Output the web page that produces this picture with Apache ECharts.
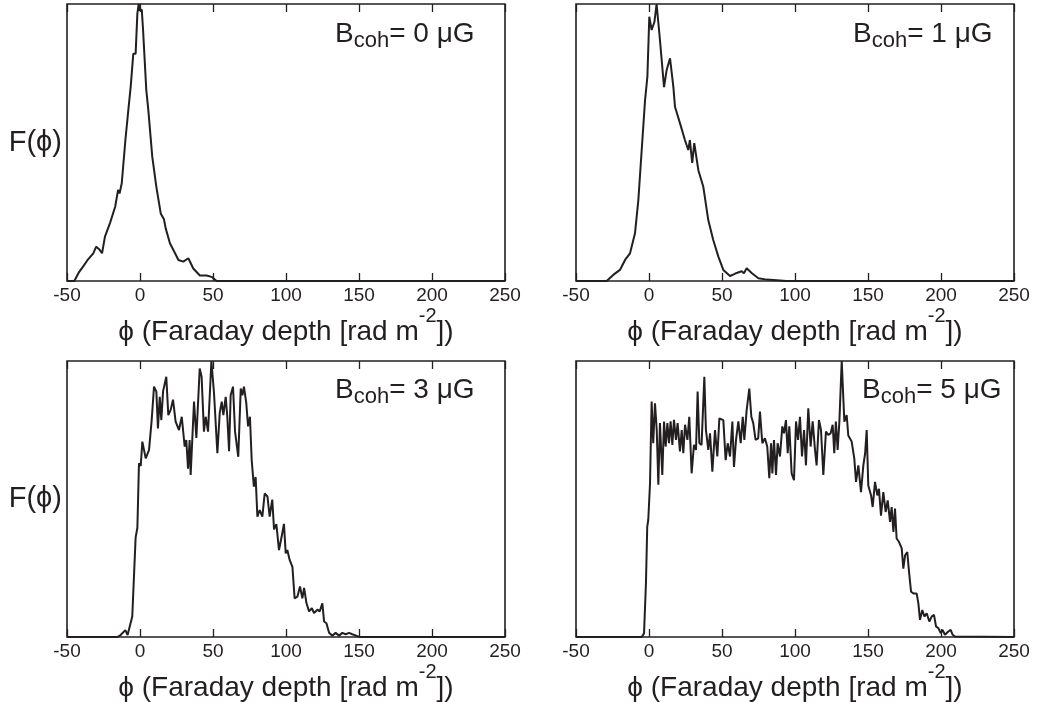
<!DOCTYPE html>
<html>
<head>
<meta charset="utf-8">
<script src="https://cdn.jsdelivr.net/npm/echarts@6/dist/echarts.min.js"></script>
<style>
html,body{margin:0;padding:0;background:#fff;}
#c{width:1039px;height:702px;}
</style>
</head>
<body>
<div id="c"></div>
<script>
// Tick labels (x axis, Faraday depth)
const xMin = -50, xMax = 250, xStep = 50;

// Panel labels
const bLabels = ['0', '1', '3', '5'];

// B_coh = 0 μG
const phi0 = [-50,-45,-42,-39,-36,-32,-30,-28,-26,-24,-20.5,-17,-15,-14,-12.5,-10,-8,-6.4,-4.6,-3,-1.8,-0.9,-0.2,1.2,2.1,4.3,5.7,8.4,11.2,14.2,16.4,17.6,20.5,24,26.3,29.7,33.1,36.5,41,45.6,49,52.5,250];
const f0   = [0,0,3,5.2,7.5,10,12.4,11.5,10,16,21,26.8,32.9,31.6,35.3,50.9,61.7,70,82,82,96.6,100,97.6,98,90.6,69,61.7,44.9,34,24.4,22.3,19,13.6,10,7.6,7,8.2,4.5,2,2,1.5,0,0];

// B_coh = 1 μG
const phi1 = [-50,-29,-24.5,-19.9,-16.4,-13,-9.6,-7.3,-5,-2.7,-1.1,0.2,1.8,3.7,5.2,7.5,10.3,12.1,14.4,16.7,17.8,21.2,24.6,26.9,28,29.6,31,33.8,37.2,40.6,44,47.5,50.9,53.2,55.5,58,60,63.5,65,66.9,70.3,74.9,80.6,87.5,94,250];
const f1   = [0,0,2.2,4,7.6,10,17.2,29.2,47.3,65.3,73.8,95.4,90.6,93.5,100,87,70,76.2,80.4,70,62.9,57,50.9,47.3,50.9,42.6,49.8,40,34,22,14.8,8.8,4,2.9,1.8,2.4,2.9,3.5,2.8,4.6,2.9,1,0.5,0.3,0,0];

// B_coh = 3 μG
const phi3 = [-50,-15.5,-13.3,-10,-8.5,-5.3,-3,-1.8,-0.7,0.5,1.6,3.9,6.2,8,9.6,11.2,12.3,13.5,14.6,15.8,18,19.4,21,22.6,24.4,26.7,28.6,30.6,31.7,32.9,34,34.7,37,38.6,40.9,42.2,43.8,45,46.6,48.9,50.7,53,54.6,56,57.1,58.7,59.8,61,62.1,63.7,65.1,67.3,69,70.1,71.2,72.8,74,75.3,76.5,78,79.2,80.4,82,83.8,85.4,87.3,88.8,90.6,91.8,93.4,95.2,97,98.6,99.8,100.9,102.5,104.4,105.9,107.8,109.6,111.2,112.4,114,115.8,117.7,119.2,121.5,123.1,124.9,126.1,127.7,129.5,131.7,134,136.3,138.6,140.9,143.2,145.4,148.9,151,250];
const f3   = [0,0,0.7,2.5,0.7,7.4,36,39.6,62.9,62,70.8,64.7,67.8,78.6,90.7,88.9,75.6,87,78.6,89,94.3,80.4,82.3,86,78,75,79.8,69,71.4,61,71.4,58.7,85.3,72.1,97.3,94.3,74.4,79.8,74.4,100,88.3,66.6,81.1,85.3,80.4,87,79.8,67.3,87.6,90.7,74.4,65.3,90,87.6,90.7,84.7,76.3,79.8,64.1,54.5,58,43.6,46,43.6,52,50.9,43.6,49.8,39,40.9,31.5,36.3,41,30.3,31.5,27.9,25.4,14,14.6,18.3,14,17.8,12.3,9.3,10.4,8.7,9.9,9.3,12.2,5.6,5,1.5,0.5,1.5,0.5,1.5,1,1.5,1,0.3,0,0];

// B_coh = 5 μG
const phi5 = [-50,-5,-3.4,-2.1,-1.2,-0.5,0.7,1.8,2.9,4.1,5.3,6.4,7.5,9.1,10.3,11.4,12.6,13.7,14.8,16,17.1,18.5,19.6,21.2,22.4,23.5,24.7,26.3,27.6,29.2,30.8,32.2,33.3,34.5,36,37.9,39,40.6,41.8,43.4,45.2,46.8,48.2,49.5,50.9,52.5,53.9,55.5,57.1,58.2,59.6,61.2,62.8,64.2,65.3,66.9,68.7,70.1,71.4,73,74.8,76,77.6,79.4,81,82.4,83.6,84.5,85.6,87,88.1,89.7,91.3,92.5,93.8,95,96.1,97.7,99.3,100.7,102.1,103.4,104.8,106.2,107.5,109.1,110.7,112.1,113.7,114.8,116.4,117.8,119.4,121.2,122.8,124.4,125.8,126.9,128,129.2,130.4,132,133.8,135.4,136.5,138.8,140.6,141.8,143.4,145.2,146.8,148,149.1,150.2,152.1,153.2,154.8,156.4,157.5,158.9,160.5,162.1,163.5,165.1,166.2,167.4,168.5,169.6,171.2,173.1,174.2,175.4,176.9,178.1,179.5,181.1,183.3,184.5,185.6,187.2,188.6,190.2,192,193.6,195.2,196.6,198.2,199.8,201.1,202.7,205,206.6,208,209.6,250];
const f5   = [0,0,1.3,19.4,40,42.4,55.7,85.3,70.2,84.7,75,55.2,77.5,58.7,78.1,69,77.5,70.2,78.1,69.6,78.7,71.4,77.5,67.2,75,66.6,76.9,71.4,79.8,59.3,69.6,67.8,88.9,70.2,69.6,94.3,75,67.8,73.8,59.9,75,65.4,79.2,79.8,78.6,64.1,70.2,65.4,78.1,61.6,71.4,78.1,70.2,79.8,71.4,82.3,90,79.8,77.5,71.4,72,81.7,70.2,72,69,57.5,70.2,59.3,71.4,58.7,70.2,65.4,76.3,73.8,78.6,66.6,76.3,59.3,56.8,78.1,71.4,79.8,65.4,75,62.2,82.9,69,78.1,67.8,62.2,78.6,75,58.7,74.4,73.2,73.8,76.9,66.6,78.1,67.8,78.1,100,78,80.4,73,70.8,64.7,56.2,62.2,52.5,62.2,66.4,75,54.9,51.3,47.1,56.2,51.3,53.7,44,52.5,45.3,49.5,41.7,47.1,38.1,46.5,35.7,34.5,32.1,24.8,29.6,30.8,23.6,16.4,15.8,15.8,12.2,6.2,9.8,7.4,8.6,5.6,7.4,8,3.8,3.2,1.4,2.6,0.8,2,2.6,0.8,0.2,0];

const panels = [[phi0,f0],[phi1,f1],[phi3,f3],[phi5,f5]];

const INK = '#231f20';
const FONT = '"Liberation Sans", Arial, "DejaVu Sans", sans-serif';

const gridPos = [
  {left: 67,  top: 4,   width: 438, height: 277},
  {left: 576, top: 4,   width: 438, height: 277},
  {left: 67,  top: 361, width: 438, height: 276},
  {left: 576, top: 361, width: 438, height: 276}
];
const labelPos = [
  {left: 335, top: 20},
  {left: 853, top: 20},
  {left: 335, top: 376},
  {left: 862, top: 376}
];

const grids = [], xAxes = [], yAxes = [], series = [], titles = [];
panels.forEach((p, i) => {
  grids.push(Object.assign({show: true, borderColor: INK, borderWidth: 1.6, backgroundColor: 'transparent',
    containLabel: false, outerBoundsMode: 'none'}, gridPos[i]));
  xAxes.push({
    type: 'value', gridIndex: i, position: 'bottom', min: xMin, max: xMax, interval: xStep,
    axisLine: {show: false},
    axisTick: {show: true, inside: true, length: 8, lineStyle: {color: INK, width: 1.3}},
    splitLine: {show: false},
    axisLabel: {show: true, margin: 5, color: INK, fontSize: 19, fontFamily: FONT, showMinLabel: true, showMaxLabel: true},
    name: '{a|ϕ (Faraday depth [rad m}{s|-2}{a|])}',
    nameLocation: 'middle', nameGap: 25,
    nameTextStyle: {
      color: INK, fontFamily: FONT,
      rich: {
        a: {fontSize: 28, lineHeight: 40, verticalAlign: 'bottom', color: INK, fontFamily: FONT, fontWeight: 'normal'},
        s: {fontSize: 20, lineHeight: 18, verticalAlign: 'top', color: INK, fontFamily: FONT, fontWeight: 'normal'}
      }
    }
  });
  xAxes.push({
    type: 'value', gridIndex: i, position: 'top', min: xMin, max: xMax, interval: xStep,
    axisLine: {show: false},
    axisTick: {show: true, inside: true, length: 8, lineStyle: {color: INK, width: 1.3}},
    splitLine: {show: false},
    axisLabel: {show: false}
  });
  yAxes.push({
    type: 'value', gridIndex: i, min: 0, max: 100,
    axisLine: {show: false}, axisTick: {show: false}, axisLabel: {show: false}, splitLine: {show: false},
    name: (i % 2 === 0) ? 'F(ϕ)' : '',
    nameLocation: 'middle', nameRotate: 0, nameGap: 5,
    nameTextStyle: {color: INK, fontSize: 29, fontFamily: FONT, align: 'right'}
  });
  series.push({
    type: 'line', xAxisIndex: i * 2, yAxisIndex: i,
    data: p[0].map((x, k) => [x, p[1][k]]),
    showSymbol: false, symbol: 'none',
    lineStyle: {color: INK, width: 2},
    clip: false
  });
  titles.push({
    text: '{b|B}{s|coh}{b|= ' + bLabels[i] + ' μG}',
    left: labelPos[i].left, top: labelPos[i].top, padding: 0,
    textStyle: {
      color: INK, fontFamily: FONT, fontWeight: 'normal',
      rich: {
        b: {fontSize: 28, lineHeight: 32, verticalAlign: 'top', color: INK, fontFamily: FONT, fontWeight: 'normal'},
        s: {fontSize: 22, lineHeight: 22, verticalAlign: 'bottom', color: INK, fontFamily: FONT, fontWeight: 'normal'}
      }
    }
  });
});

const chart = echarts.init(document.getElementById('c'), null, {renderer: 'canvas'});
chart.setOption({
  animation: false,
  backgroundColor: '#fff',
  title: titles,
  grid: grids,
  xAxis: xAxes,
  yAxis: yAxes,
  series: series
});
</script>
</body>
</html>
